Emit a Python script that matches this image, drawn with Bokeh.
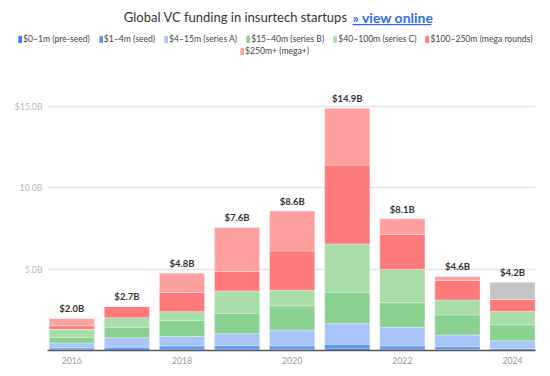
from bokeh.plotting import figure
from bokeh.models import (ColumnDataSource, FixedTicker, Legend, LegendItem, Label,
                          Range1d, BoxAnnotation)
from bokeh.layouts import column
from bokeh.embed import file_html
from bokeh.resources import INLINE
from bokeh.core.properties import value

# ---- data (USD billions) ----
years = [2016, 2017, 2018, 2019, 2020, 2021, 2022, 2023, 2024]
pre_seed = [0.05, 0.03, 0.07, 0.07, 0.06, 0.10, 0.08, 0.06, 0.03]
seed = [0.12, 0.17, 0.20, 0.23, 0.22, 0.28, 0.20, 0.17, 0.08]
series_a = [0.29, 0.58, 0.59, 0.73, 0.98, 1.27, 1.15, 0.72, 0.49]
series_b = [0.35, 0.65, 1.00, 1.26, 1.49, 1.94, 1.51, 1.24, 0.98]
series_c = [0.49, 0.59, 0.53, 1.37, 0.96, 2.96, 2.04, 0.92, 0.82]
mega = [0.22, 0.69, 1.18, 1.20, 2.42, 4.86, 2.16, 1.20, 0.75]
mega_plus = [0.45, 0.00, 1.20, 2.72, 2.47, 3.51, 0.98, 0.25, 0.00]
unclassified = [0, 0, 0, 0, 0, 0, 0, 0, 1.05]

series_keys = ["pre_seed", "seed", "series_a", "series_b", "series_c", "mega", "mega_plus", "unclassified"]
series_labels = ["$0–1m (pre-seed)", "$1–4m (seed)", "$4–15m (series A)", "$15–40m (series B)",
                 "$40–100m (series C)", "$100–250m (mega rounds)", "$250m+ (mega+)"]
colors = ["#3d7ce8", "#5f97f0", "#a8c5fb", "#8ad08f", "#a8dca9", "#ff7b7b", "#ffa0a0", "#c4c4c4"]

y_ticks = [0, 5, 10, 15]
y_tick_labels = {0: "", 5: "5.0B", 10: "10.0B", 15: "$15.0B"}
x_ticks = [2016, 2018, 2020, 2022, 2024]

title_text = "Global VC funding in insurtech startups"
link_text = "» view online"

totals = [round(sum(v), 2) for v in zip(pre_seed, seed, series_a, series_b, series_c,
                                          mega, mega_plus, unclassified)]
total_labels = ["${:.1f}B".format(t) for t in totals]

src = ColumnDataSource(dict(year=years, pre_seed=pre_seed, seed=seed, series_a=series_a,
                            series_b=series_b, series_c=series_c, mega=mega,
                            mega_plus=mega_plus, unclassified=unclassified,
                            total=totals, total_label=total_labels))

FONT = "Lato"

# ---------------- header: title + legend ----------------
# the header's ranges are pixel-like, so the data bars drawn in it stay out of view;
# they only serve as the legend's colour swatches
h = figure(width=550, height=60, output_backend="svg", toolbar_location=None,
           x_range=Range1d(0, 550), y_range=Range1d(0, 60),
           x_axis_location=None, y_axis_location=None,
           min_border_left=0, min_border_right=0, min_border_top=0, min_border_bottom=0)
h.outline_line_color = None
h.xgrid.visible = False
h.ygrid.visible = False

swatches = h.vbar_stack(series_keys, x="year", width=0.82, color=colors, source=src)

def make_legend(idx, loc):
    return Legend(items=[LegendItem(label=series_labels[i], renderers=[swatches[i]]) for i in idx],
                  orientation="horizontal", location=loc, glyph_width=4, glyph_height=8,
                  label_standoff=1, spacing=9, padding=0, margin=0, border_line_color=None,
                  background_fill_alpha=0, label_text_font=FONT, label_text_font_size="8.6px",
                  label_text_color="#444444", label_height=10)

h.add_layout(make_legend(range(6), (18, 16)))
h.add_layout(make_legend([6], (240, 4)))

h.add_layout(Label(x=347, y=43.5, x_units="screen", y_units="screen",
                   text=title_text, text_align="right", text_baseline="middle",
                   text_font=FONT, text_font_size="13px", text_color="#333333"))
h.add_layout(Label(x=352, y=43.5, x_units="screen", y_units="screen",
                   text=link_text, text_align="left", text_baseline="middle",
                   text_font=FONT, text_font_size="14px", text_font_style="bold",
                   text_color="#2d6ee8"))
h.add_layout(BoxAnnotation(left=352, right=431, bottom=35.3, top=36.5,
                           left_units="screen", right_units="screen",
                           bottom_units="screen", top_units="screen",
                           fill_color="#2d6ee8", fill_alpha=1, line_color=None))

# ---------------- main chart ----------------
p = figure(width=550, height=316, output_backend="svg", toolbar_location=None,
           x_range=Range1d(2015.559, 2024.417), y_range=Range1d(0, 17.846),
           min_border_left=47, min_border_right=15, min_border_top=0, min_border_bottom=26)
p.outline_line_color = None
p.background_fill_color = "white"

rs = p.vbar_stack(series_keys, x="year", width=0.82, color=colors, source=src,
                  line_color="white", line_width=0.6, line_alpha=0.5)

p.text(x="year", y="total", text="total_label", source=src, text_align="center",
       text_baseline="bottom", y_offset=-4, text_font=value(FONT),
       text_font_size="9.5px", text_font_style="bold", text_color="#333333")

p.yaxis.ticker = FixedTicker(ticks=y_ticks)
p.yaxis.major_label_overrides = y_tick_labels
p.yaxis.axis_line_color = None
p.yaxis.major_tick_line_color = None
p.yaxis.major_tick_out = 0
p.yaxis.major_tick_in = 0
p.yaxis.minor_tick_line_color = None
p.yaxis.major_label_text_color = "#b8b8b8"
p.yaxis.major_label_text_font = FONT
p.yaxis.major_label_text_font_size = "8.7px"
p.yaxis.major_label_standoff = 5

p.xaxis.ticker = FixedTicker(ticks=x_ticks)
p.xaxis.axis_line_color = "#555555"
p.xaxis.axis_line_width = 1.5
p.xaxis.major_tick_line_color = None
p.xaxis.major_tick_out = 0
p.xaxis.major_tick_in = 0
p.xaxis.minor_tick_line_color = None
p.xaxis.major_label_text_color = "#999999"
p.xaxis.major_label_text_font = FONT
p.xaxis.major_label_text_font_size = "8.7px"
p.xaxis.major_label_standoff = 6

p.xgrid.grid_line_color = None
p.ygrid.ticker = FixedTicker(ticks=y_ticks)
p.ygrid.grid_line_color = "#e4e4e4"
p.ygrid.grid_line_width = 1.3

for f in (h, p):
    if "frame_align" in f.properties():
        f.frame_align = False

layout = column(h, p, spacing=0)
open("out.html", "w").write(file_html(layout, INLINE))
